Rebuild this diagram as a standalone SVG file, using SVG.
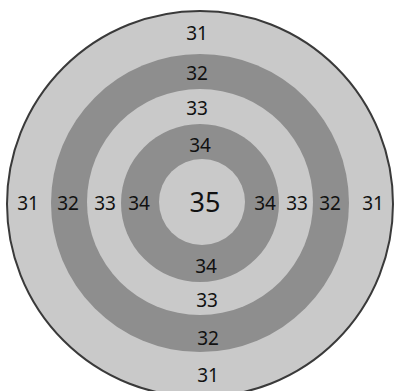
<svg xmlns="http://www.w3.org/2000/svg" width="396" height="391" viewBox="0 0 396 391">
<style>
.l{fill:#c9c9c9}
.d{fill:#8e8e8e}
text{font-family:"Noto Sans","Open Sans",sans-serif;font-size:19px;fill:#111111;text-anchor:middle}
.big{font-size:27px}
</style>
<rect width="396" height="391" fill="#ffffff"/>
<g id="ring31"><circle class="l" cx="200" cy="204" r="193" stroke="#3a3a3a" stroke-width="2"/></g>
<g id="ring32"><circle class="d" cx="200" cy="203" r="149"/></g>
<g id="ring33"><circle class="l" cx="200" cy="202" r="113"/></g>
<g id="ring34"><circle class="d" cx="200" cy="203" r="79"/></g>
<g id="ring35"><circle class="l" cx="202" cy="202" r="43"/></g>
<g id="labels">
<text x="197" y="40">31</text>
<text x="197" y="80">32</text>
<text x="197" y="115">33</text>
<text x="200" y="152">34</text>
<text class="big" x="205" y="212">35</text>
<text x="28" y="210">31</text>
<text x="68" y="210">32</text>
<text x="105" y="210">33</text>
<text x="139" y="210">34</text>
<text x="265" y="210">34</text>
<text x="297" y="210">33</text>
<text x="330" y="210">32</text>
<text x="373" y="210">31</text>
<text x="206" y="273">34</text>
<text x="207" y="307">33</text>
<text x="208" y="345">32</text>
<text x="208" y="382">31</text>
</g>
</svg>
